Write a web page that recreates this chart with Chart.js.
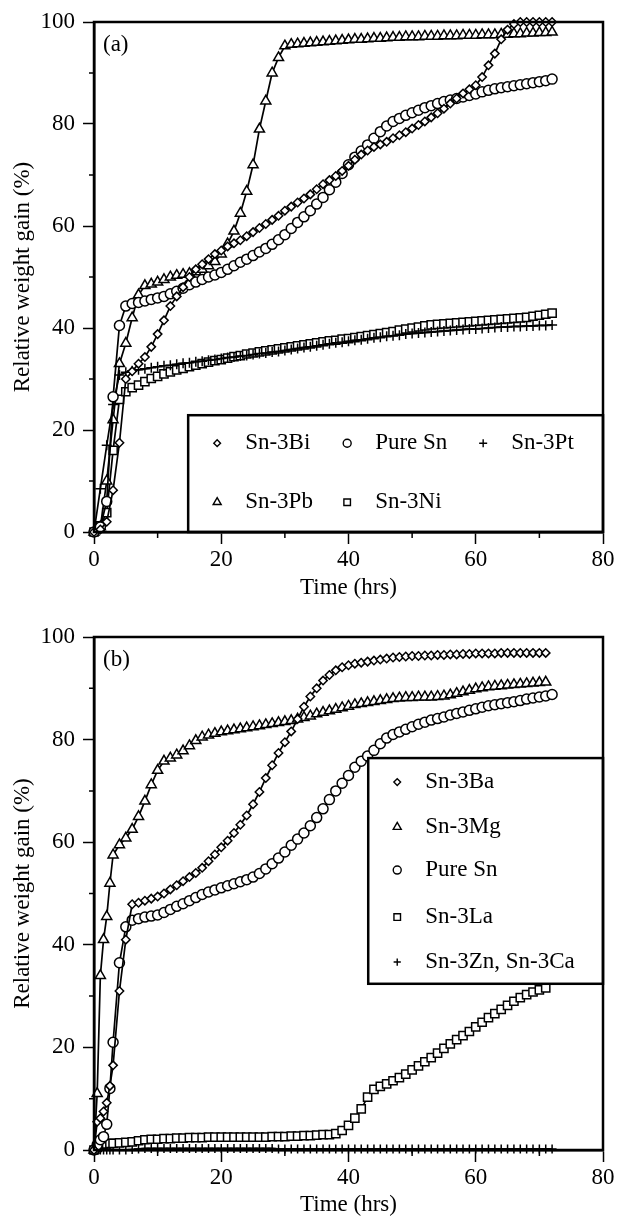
<!DOCTYPE html>
<html>
<head>
<meta charset="utf-8">
<script src="https://cdn.jsdelivr.net/npm/chart.js"></script>
<style>
  html, body { margin: 0; padding: 0; background: #fff; }
  canvas { display: block; }
</style>
</head>
<body>
<canvas id="chartA" width="617" height="608"></canvas>
<canvas id="chartB" width="617" height="608"></canvas>
<script>
// panel (a): times in hours, relative weight gain in %
const timeA = [0, 1, 2, 3, 4, 5, 6, 7, 8, 9, 10, 11, 12, 13, 14, 15, 16, 17, 18, 19, 20, 21, 22, 23, 24,
  25, 26, 27, 28, 29, 30, 31, 32, 33, 34, 35, 36, 37, 38, 39, 40, 41, 42, 43, 44, 45, 46, 47, 48, 49,
  50, 51, 52, 53, 54, 55, 56, 57, 58, 59, 60, 61, 62, 63, 64, 65, 66, 67, 68, 69, 70, 71, 72];
const sn3Bi = [0, 0.5, 2, 8.2, 17.5, 30, 31.5, 33, 34.3, 36.3,
  38.8, 41.5, 44.3, 46.2, 48, 50, 51.5, 52.5, 53.5, 54.5,
  55.2, 56, 56.6, 57.2, 58, 58.8, 59.6, 60.4, 61.2, 62,
  63, 63.8, 64.6, 65.4, 66.2, 67.2, 68.2, 69, 69.8, 70.8,
  71.8, 73, 74, 74.8, 75.5, 76, 76.5, 77.2, 77.8, 78.4,
  79.1, 79.8, 80.5, 81.3, 82.1, 83, 84, 85, 86, 86.8,
  87.6, 89.2, 91.5, 93.8, 96.6, 98.5, 99.6, 100, 100, 100,
  100, 100, 100];
const pureSnA = [0, 1, 6, 26.5, 40.5, 44.3, 44.8, 45, 45.3, 45.6,
  45.9, 46.2, 46.7, 47.2, 47.8, 48.5, 49, 49.5, 50, 50.4,
  50.9, 51.5, 52.2, 52.9, 53.5, 54.2, 54.9, 55.6, 56.4, 57.3,
  58.3, 59.5, 60.7, 61.8, 63, 64.3, 65.6, 67.1, 68.6, 70.3,
  72, 73.5, 74.7, 75.9, 77.2, 78.5, 79.6, 80.5, 81.1, 81.7,
  82.2, 82.7, 83.2, 83.6, 84, 84.4, 84.7, 85, 85.3, 85.6,
  85.9, 86.3, 86.6, 86.9, 87.1, 87.3, 87.5, 87.7, 87.9, 88.1,
  88.3, 88.5, 88.8];
const sn3Pt = [0, 8.5, 17, 25, 30.8, 31.3, 31.6, 31.8, 32, 32.2,
  32.4, 32.6, 32.7, 32.9, 33.1, 33.2, 33.4, 33.5, 33.7, 33.8,
  34, 34.2, 34.3, 34.5, 34.6, 34.8, 35, 35.1, 35.3, 35.4,
  35.6, 35.8, 36, 36.2, 36.3, 36.5, 36.7, 36.9, 37.1, 37.2,
  37.4, 37.6, 37.7, 37.9, 38.1, 38.2, 38.4, 38.5, 38.6, 38.8,
  38.9, 39, 39.1, 39.2, 39.3, 39.4, 39.5, 39.6, 39.7, 39.8,
  39.8, 39.9, 40, 40.1, 40.2, 40.2, 40.3, 40.3, 40.4, 40.4,
  40.5, 40.5, 40.6];
const sn3Pb = [0, 1, 10, 22, 33, 37, 42, 46.5, 48.3, 48.6,
  49, 49.5, 50, 50.3, 50.5, 50.7, 51, 51.5, 52.2, 53,
  54.5, 56.5, 59, 62.5, 66.8, 72, 79, 84.5, 90, 93,
  95.3, 95.6, 95.7, 95.8, 95.9, 96, 96.1, 96.2, 96.3, 96.4,
  96.5, 96.6, 96.6, 96.7, 96.8, 96.8, 96.9, 97, 97, 97.1,
  97.1, 97.1, 97.2, 97.2, 97.2, 97.3, 97.3, 97.3, 97.4, 97.4,
  97.4, 97.5, 97.5, 97.5, 97.6, 97.6, 97.7, 97.7, 97.8, 97.8,
  97.9, 97.9, 98];
const sn3Ni = [0, 1.2, 3.8, 16, 26, 27.5, 28.3, 28.8, 29.5, 30.1,
  30.5, 31, 31.4, 31.8, 32.1, 32.4, 32.7, 33, 33.3, 33.6,
  33.8, 34.1, 34.4, 34.6, 34.9, 35.1, 35.3, 35.5, 35.7, 35.9,
  36.1, 36.3, 36.5, 36.7, 36.9, 37.1, 37.3, 37.5, 37.6, 37.8,
  37.9, 38.1, 38.3, 38.5, 38.7, 38.9, 39.1, 39.3, 39.6, 39.8,
  40, 40.2, 40.4, 40.6, 40.7, 40.8, 40.9, 41, 41.1, 41.2,
  41.3, 41.4, 41.5, 41.6, 41.7, 41.8, 41.9, 42, 42.1, 42.3,
  42.5, 42.7, 42.9];

// panel (b)
const timeB = [0, 0.5, 1, 1.5, 2, 2.5, 3, 4, 5, 6, 7, 8, 9, 10, 11, 12, 13, 14, 15, 16, 17, 18, 19, 20,
  21, 22, 23, 24, 25, 26, 27, 28, 29, 30, 31, 32, 33, 34, 35, 36, 37, 38, 39, 40, 41, 42, 43, 44, 45,
  46, 47, 48, 49, 50, 51, 52, 53, 54, 55, 56, 57, 58, 59, 60, 61, 62, 63, 64, 65, 66, 67, 68, 69, 70, 71, 72];
const sn3Ba = [0, 5.5, 6.2, 7.5, 9.2, 12.5, 16.5,
  31, 41, 47.9, 48.2, 48.6, 49, 49.4, 50, 50.8, 51.6,
  52.4, 53.2, 54, 55, 56.3, 57.6, 59, 60.3, 61.8, 63.4,
  65.2, 67.4, 69.8, 72.5, 75, 77.4, 79.5, 81.6, 84, 86.4,
  88.4, 90, 91.5, 92.6, 93.5, 94.1, 94.5, 94.8, 95, 95.2,
  95.4, 95.6, 95.8, 96, 96.1, 96.2, 96.3, 96.3, 96.4, 96.4,
  96.5, 96.5, 96.6, 96.6, 96.7, 96.7, 96.8, 96.8, 96.8, 96.8,
  96.9, 96.9, 96.9, 96.9, 96.9, 96.9, 96.9, 96.9];
const sn3Mg = [0, 11, 34, 41, 45.5, 52, 57.5,
  59.5, 60.8, 62.5, 65, 68, 71.2, 74, 75.8, 76.4, 77,
  77.8, 78.8, 79.8, 80.5, 80.9, 81.2, 81.5, 81.7, 81.9, 82.1,
  82.3, 82.5, 82.7, 82.9, 83.1, 83.3, 83.5, 83.7, 84, 84.3,
  84.6, 85, 85.3, 85.6, 85.9, 86.2, 86.5, 86.8, 87, 87.2,
  87.4, 87.6, 87.8, 88, 88.1, 88.2, 88.2, 88.3, 88.3, 88.3,
  88.4, 88.5, 88.7, 89, 89.3, 89.6, 89.9, 90.1, 90.3, 90.4,
  90.5, 90.6, 90.7, 90.8, 90.9, 91, 91.1, 91.2];
const pureSnB = [0, 1, 2, 2.6, 5, 12, 21,
  36.5, 43.5, 44.8, 45.1, 45.4, 45.6, 45.8, 46.3, 46.9, 47.5,
  48, 48.6, 49.2, 49.8, 50.3, 50.7, 51.1, 51.5, 51.9, 52.3,
  52.7, 53.2, 53.9, 54.8, 55.8, 56.9, 58.1, 59.4, 60.6, 61.8,
  63.2, 64.8, 66.5, 68.3, 70, 71.5, 73, 74.6, 75.8, 76.8,
  77.9, 79.2, 80.3, 81, 81.5, 82, 82.5, 83, 83.4, 83.8,
  84.1, 84.4, 84.8, 85.1, 85.4, 85.7, 86, 86.3, 86.6, 86.8,
  87, 87.2, 87.4, 87.6, 87.9, 88.1, 88.3, 88.5, 88.8];
const sn3La = [0, 0.5, 0.9, 1.1, 1.2, 1.3, 1.3,
  1.4, 1.5, 1.6, 1.8, 2, 2.1, 2.1, 2.2, 2.2, 2.3,
  2.3, 2.4, 2.4, 2.4, 2.5, 2.5, 2.5, 2.5, 2.5, 2.5,
  2.5, 2.5, 2.5, 2.5, 2.6, 2.6, 2.6, 2.7, 2.7, 2.8,
  2.8, 2.9, 3, 3, 3.2, 3.8, 4.8, 6.2, 8, 10.3,
  11.8, 12.4, 12.9, 13.5, 14.1, 14.8, 15.6, 16.4, 17.2, 18,
  18.9, 19.8, 20.7, 21.5, 22.3, 23.1, 24, 24.9, 25.8, 26.6,
  27.4, 28.2, 29, 29.7, 30.3, 30.8, 31.2, 31.6];
const sn3ZnCa = [0, 0, 0, 0, 0, 0, 0,
  0, 0, 0.1, 0.2, 0.3, 0.3, 0.3, 0.3, 0.3, 0.3,
  0.3, 0.3, 0.3, 0.3, 0.3, 0.3, 0.3, 0.3, 0.3, 0.3,
  0.3, 0.3, 0.3, 0.3, 0.3, 0.2, 0.2, 0.2, 0.2, 0.2,
  0.2, 0.2, 0.2, 0.2, 0.2, 0.2, 0.2, 0.2, 0.2, 0.2,
  0.2, 0.2, 0.2, 0.2, 0.2, 0.2, 0.2, 0.2, 0.2, 0.2,
  0.2, 0.2, 0.2, 0.2, 0.2, 0.2, 0.2, 0.2, 0.2, 0.2,
  0.2, 0.2, 0.2, 0.2, 0.2, 0.2, 0.2, 0.2, 0.2];

const minorX = [10, 30, 50, 70];
const minorY = [10, 30, 50, 70, 90];

const serif = '"Liberation Serif", "Times New Roman", serif';
Chart.defaults.font.family = serif;
Chart.defaults.color = '#000';

function pts(times, vals) {
  return vals.map((v, i) => ({ x: times[i], y: v }));
}

function series(label, times, vals, style, radius) {
  return {
    label: label,
    data: pts(times, vals),
    pointStyle: style,
    pointRadius: radius,
    pointBorderWidth: 1.5,
    pointBackgroundColor: '#fff',
    pointBorderColor: '#000',
    borderColor: '#000',
    borderWidth: 1.7,
    tension: 0,
    clip: false
  };
}

// frame, minor ticks and panel tag
const framePlugin = {
  id: 'frame',
  afterDraw(chart, args, opts) {
    const { ctx, chartArea: a, scales: { x, y } } = chart;
    ctx.save();
    ctx.strokeStyle = '#000';
    ctx.lineWidth = 1.5;
    ctx.beginPath();
    minorX.forEach(v => {
      const px = x.getPixelForValue(v);
      ctx.moveTo(px, a.bottom);
      ctx.lineTo(px, a.bottom + 6);
    });
    minorY.forEach(v => {
      const py = y.getPixelForValue(v);
      ctx.moveTo(a.left, py);
      ctx.lineTo(a.left - 5, py);
    });
    ctx.stroke();
    ctx.lineWidth = 2.5;
    ctx.strokeRect(a.left, a.top, a.right - a.left, a.bottom - a.top);
    ctx.fillStyle = '#000';
    ctx.font = '23px ' + serif;
    ctx.textBaseline = 'middle';
    ctx.fillText(opts.tag, a.left + 9, a.top + 23);
    ctx.restore();
  }
};

// legend box drawn inside the plot area
const boxLegend = {
  id: 'boxLegend',
  afterDatasetsDraw(chart, args, opts) {
    const { ctx, chartArea: a, scales: { x, y } } = chart;
    const left = x.getPixelForValue(opts.fromX);
    const top = y.getPixelForValue(opts.fromY);
    const bottom = opts.toY == null ? a.bottom : y.getPixelForValue(opts.toY);
    ctx.save();
    ctx.fillStyle = '#fff';
    ctx.fillRect(left, top, a.right - left, bottom - top);
    ctx.strokeStyle = '#000';
    ctx.lineWidth = 2.5;
    ctx.strokeRect(left, top, a.right - left, bottom - top);
    ctx.font = '23px ' + serif;
    ctx.textBaseline = 'middle';
    opts.items.forEach(it => {
      const ds = chart.data.datasets[it.ds];
      const px = left + it.dx;
      const py = top + it.dy;
      ctx.fillStyle = '#fff';
      ctx.strokeStyle = '#000';
      ctx.lineWidth = 1.4;
      Chart.helpers.drawPoint(ctx, { pointStyle: ds.pointStyle, radius: ds.pointRadius * 0.8, borderWidth: 1.4 }, px, py);
      ctx.fillStyle = '#000';
      ctx.fillText(ds.label, px + 28, py);
    });
    ctx.restore();
  }
};

function axes(xHeight, titlePad) {
  return {
    x: {
      type: 'linear', min: 0, max: 80,
      ticks: { stepSize: 20, padding: 2, maxRotation: 0, font: { size: 23 } },
      grid: { drawOnChartArea: false, tickLength: 12, tickWidth: 1.5, tickColor: '#000' },
      border: { color: '#000', width: 2.5 },
      title: { display: true, text: 'Time (hrs)', font: { size: 23, lineHeight: 1 }, padding: { top: 0, bottom: titlePad } },
      afterFit(s) { s.height = xHeight; }
    },
    y: {
      min: 0, max: 100,
      ticks: { stepSize: 20, padding: 8, font: { size: 23 } },
      grid: { drawOnChartArea: false, tickLength: 11, tickWidth: 1.5, tickColor: '#000' },
      border: { color: '#000', width: 2.5 },
      title: { display: true, text: 'Relative weight gain (%)', font: { size: 23, lineHeight: 1 }, padding: { top: 11, bottom: 0 } },
      afterFit(s) { s.width = 94; }
    }
  };
}

new Chart(document.getElementById('chartA'), {
  type: 'line',
  data: {
    datasets: [
      series('Sn-3Bi', timeA, sn3Bi, 'rectRot', 4.2),
      series('Pure Sn', timeA, pureSnA, 'circle', 5),
      series('Sn-3Pt', timeA, sn3Pt, 'cross', 5),
      series('Sn-3Pb', timeA, sn3Pb, 'triangle', 5.8),
      series('Sn-3Ni', timeA, sn3Ni, 'rect', 5.8)
    ]
  },
  options: {
    responsive: false,
    animation: false,
    devicePixelRatio: 1,
    layout: { padding: { top: 22, right: 14, bottom: 0, left: 0 } },
    scales: axes(76, 9),
    plugins: {
      legend: { display: false },
      tooltip: { enabled: false },
      frame: { tag: '(a)' },
      boxLegend: {
        fromX: 14.8, fromY: 22.9, toY: null,
        items: [
          { ds: 0, dx: 29, dy: 28 }, { ds: 1, dx: 159, dy: 28 }, { ds: 2, dx: 295, dy: 28 },
          { ds: 3, dx: 29, dy: 87 }, { ds: 4, dx: 159, dy: 87 }
        ]
      }
    }
  },
  plugins: [boxLegend, framePlugin]
});

new Chart(document.getElementById('chartB'), {
  type: 'line',
  data: {
    datasets: [
      series('Sn-3Ba', timeB, sn3Ba, 'rectRot', 4.2),
      series('Sn-3Mg', timeB, sn3Mg, 'triangle', 5.8),
      series('Pure Sn', timeB, pureSnB, 'circle', 5),
      series('Sn-3La', timeB, sn3La, 'rect', 5.8),
      series('Sn-3Zn, Sn-3Ca', timeB, sn3ZnCa, 'cross', 4.5)
    ]
  },
  options: {
    responsive: false,
    animation: false,
    devicePixelRatio: 1,
    layout: { padding: { top: 29, right: 14, bottom: 0, left: 0 } },
    scales: axes(66, 0),
    plugins: {
      legend: { display: false },
      tooltip: { enabled: false },
      frame: { tag: '(b)' },
      boxLegend: {
        fromX: 43.1, fromY: 76.4, toY: 32.4,
        items: [
          { ds: 0, dx: 29, dy: 24 }, { ds: 1, dx: 29, dy: 69 }, { ds: 2, dx: 29, dy: 112 },
          { ds: 3, dx: 29, dy: 159 }, { ds: 4, dx: 29, dy: 204 }
        ]
      }
    }
  },
  plugins: [boxLegend, framePlugin]
});
</script>
</body>
</html>
